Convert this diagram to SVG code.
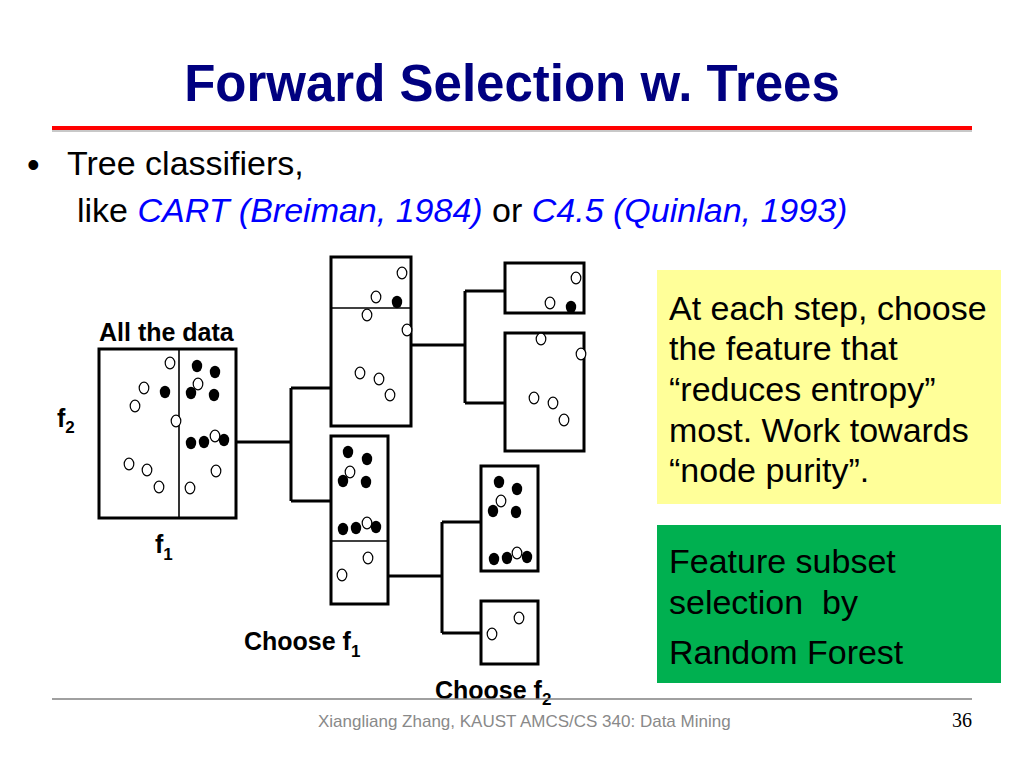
<svg xmlns="http://www.w3.org/2000/svg" width="1024" height="768" viewBox="0 0 1024 768">
<style>
.box{fill:#ffffff;stroke:#000000;stroke-width:3}
.div{stroke:#000000;stroke-width:1.6}
.o{fill:#ffffff;stroke:#000000;stroke-width:1.2}
.f{fill:#000000}
.conn{fill:none;stroke:#000000;stroke-width:3}
.lbl{font-family:"Liberation Sans",Arial,sans-serif;font-weight:bold;font-size:25px;fill:#000000}
.sub{font-size:17px}
.body{font-family:"Liberation Sans",Arial,sans-serif;font-size:34px;fill:#000000}
.cite{font-style:italic;fill:#0000ff}
</style>
<defs>
<ellipse id="oc" rx="4.8" ry="5.8" class="o"/>
<ellipse id="fc" rx="5.2" ry="6.2" class="f"/>
</defs>
<rect width="1024" height="768" fill="#ffffff"/>

<g id="title">
<text x="512" y="101" text-anchor="middle" font-family="'Liberation Sans',Arial,sans-serif" font-weight="bold" font-size="51" fill="#000080">Forward Selection w. Trees</text>
<rect x="52" y="129" width="920" height="3" fill="#c8c8c8"/>
<rect x="52" y="126" width="920" height="4" fill="#ff0000"/>
</g>

<g id="bullets">
<text x="27" y="177" font-family="'Liberation Sans',Arial,sans-serif" font-size="36" fill="#000000">•</text>
<text x="67" y="175" class="body">Tree classifiers,</text>
<text x="77" y="222" class="body">like <tspan class="cite">CART (Breiman, 1984)</tspan> or <tspan class="cite">C4.5 (Quinlan, 1993)</tspan></text>
</g>

<g id="connectors">
<path class="conn" d="M236,442 H291 M291,388 V501 M291,388 H331 M291,501 H331"/>
<path class="conn" d="M411,345 H465 M465,291 V403 M465,291 H505 M465,403 H505"/>
<path class="conn" d="M388,576 H442 M442,522 V633 M442,522 H481 M442,633 H481"/>
</g>

<g id="node-all">
<text x="99" y="341" class="lbl">All the data</text>
<rect x="99" y="349" width="137" height="169" class="box"/>
<line x1="179" y1="349" x2="179" y2="518" class="div"/>
<use href="#oc" x="170" y="363"/>
<use href="#fc" x="197" y="366"/>
<use href="#fc" x="215" y="372"/>
<use href="#oc" x="198" y="384"/>
<use href="#oc" x="144" y="388"/>
<use href="#fc" x="165" y="392"/>
<use href="#fc" x="191" y="393"/>
<use href="#fc" x="214" y="395"/>
<use href="#oc" x="135" y="406"/>
<use href="#oc" x="176" y="421"/>
<use href="#fc" x="191" y="443"/>
<use href="#fc" x="204" y="442"/>
<use href="#oc" x="215" y="436"/>
<use href="#fc" x="224" y="440"/>
<use href="#oc" x="129" y="464"/>
<use href="#oc" x="147" y="470"/>
<use href="#oc" x="216" y="471"/>
<use href="#oc" x="159" y="487"/>
<use href="#oc" x="190" y="488"/>
<text x="57" y="427" class="lbl">f<tspan class="sub" dy="6">2</tspan></text>
<text x="155" y="553" class="lbl">f<tspan class="sub" dy="7">1</tspan></text>
</g>

<g id="node-f1-upper">
<rect x="331" y="257" width="80" height="169" class="box"/>
<line x1="331" y1="308" x2="411" y2="308" class="div"/>
<use href="#oc" x="402" y="273"/>
<use href="#oc" x="376" y="297"/>
<use href="#fc" x="397" y="302"/>
<use href="#oc" x="367" y="315"/>
<use href="#oc" x="407" y="330"/>
<use href="#oc" x="360" y="373"/>
<use href="#oc" x="379" y="379"/>
<use href="#oc" x="390" y="395"/>
</g>

<g id="node-f1-lower">
<rect x="331" y="436" width="57" height="168" class="box"/>
<line x1="331" y1="541" x2="388" y2="541" class="div"/>
<use href="#fc" x="348" y="452"/>
<use href="#fc" x="367" y="459"/>
<use href="#oc" x="350" y="472"/>
<use href="#fc" x="343" y="481"/>
<use href="#fc" x="366" y="482"/>
<use href="#fc" x="343" y="529"/>
<use href="#fc" x="356" y="528"/>
<use href="#oc" x="367" y="523"/>
<use href="#fc" x="376" y="527"/>
<use href="#oc" x="368" y="558"/>
<use href="#oc" x="342" y="575"/>
</g>

<g id="node-a1">
<rect x="505" y="263" width="79" height="50" class="box"/>
<use href="#oc" x="576" y="278"/>
<use href="#oc" x="550" y="303"/>
<use href="#fc" x="571" y="307"/>
</g>

<g id="node-a2">
<rect x="505" y="333" width="79" height="118" class="box"/>
<use href="#oc" x="541" y="339"/>
<use href="#oc" x="581" y="354"/>
<use href="#oc" x="534" y="398"/>
<use href="#oc" x="553" y="403"/>
<use href="#oc" x="564" y="420"/>
</g>

<g id="node-b1">
<rect x="481" y="466" width="57" height="105" class="box"/>
<use href="#fc" x="499" y="482"/>
<use href="#fc" x="517" y="489"/>
<use href="#oc" x="501" y="501"/>
<use href="#fc" x="493" y="511"/>
<use href="#fc" x="516" y="512"/>
<use href="#fc" x="494" y="559"/>
<use href="#fc" x="507" y="558"/>
<use href="#oc" x="517" y="553"/>
<use href="#fc" x="527" y="557"/>
</g>

<g id="node-b2">
<rect x="481" y="601" width="57" height="63" class="box"/>
<use href="#oc" x="519" y="618"/>
<use href="#oc" x="492" y="634"/>
</g>

<g id="labels">
<text x="244" y="650" class="lbl">Choose f<tspan class="sub" dy="7">1</tspan></text>
<text x="435" y="699" class="lbl">Choose f<tspan class="sub" dy="6">2</tspan></text>
</g>

<g id="note-entropy">
<rect x="657" y="270" width="344" height="234" fill="#ffff99"/>
<text class="body"><tspan x="669" y="320">At each step, choose</tspan><tspan x="669" y="360">the feature that</tspan><tspan x="669" y="401">“reduces entropy”</tspan><tspan x="669" y="442">most. Work towards</tspan><tspan x="669" y="482">“node purity”.</tspan></text>
</g>

<g id="note-rf">
<rect x="657" y="525" width="344" height="158" fill="#00b050"/>
<text class="body" xml:space="preserve"><tspan x="669" y="573">Feature subset</tspan><tspan x="669" y="614">selection  by</tspan><tspan x="669" y="664">Random Forest</tspan></text>
</g>

<g id="footer">
<line x1="52" y1="699" x2="972" y2="699" stroke="#808080" stroke-width="1.5"/>
<text x="318" y="727" font-family="'Liberation Sans',Arial,sans-serif" font-size="17" fill="#898989">Xiangliang Zhang, KAUST AMCS/CS 340: Data Mining</text>
<text x="972" y="727" text-anchor="end" font-family="'Liberation Serif','Times New Roman',serif" font-size="20" fill="#000000">36</text>
</g>
</svg>
